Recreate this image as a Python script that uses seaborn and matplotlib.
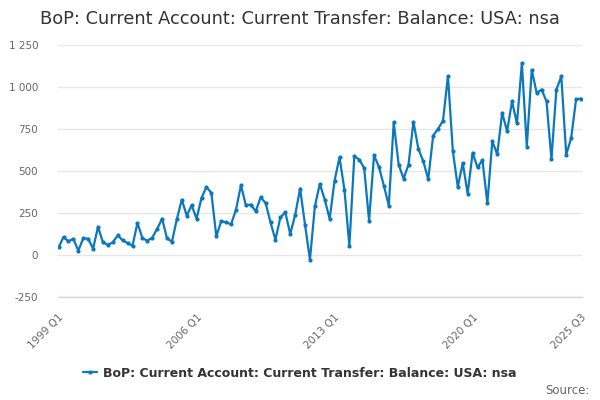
import numpy as np
import pandas as pd
import seaborn as sns
import matplotlib.pyplot as plt

title = 'BoP: Current Account: Current Transfer: Balance: USA: nsa'

quarters = [f'{y} Q{q}' for y in range(1999, 2026) for q in range(1, 5)][:107]

balance = [
    45, 107, 81, 97, 26, 99, 97, 38, 167, 75,
    61, 75, 117, 87, 71, 55, 191, 101, 85, 103,
    155, 216, 99, 79, 214, 330, 234, 296, 216, 340,
    405, 369, 111, 202, 194, 183, 270, 415, 296, 300,
    260, 343, 310, 194, 91, 224, 254, 125, 238, 395,
    181, -28, 290, 423, 330, 215, 443, 582, 389, 54,
    588, 568, 518, 204, 594, 524, 413, 294, 790, 538,
    455, 538, 793, 632, 558, 451, 711, 751, 800, 1065,
    617, 405, 548, 365, 608, 522, 564, 308, 677, 600,
    846, 737, 914, 783, 1140, 645, 1102, 965, 985, 914,
    570, 985, 1063, 598, 695, 927, 931,
]

yticks = [-250, 0, 250, 500, 750, 1000, 1250]
label_quarters = ['1999 Q1', '2006 Q1', '2013 Q1', '2020 Q1', '2025 Q3']

df = pd.DataFrame({'quarter': quarters, 'value': balance})
df['idx'] = np.arange(len(df))

sns.set_style('white')
plt.rcParams['font.family'] = ['DejaVu Sans']

fig, ax = plt.subplots(figsize=(6, 4), dpi=100)
fig.subplots_adjust(left=0.096, right=0.97, top=0.8875, bottom=0.2575)

sns.lineplot(data=df, x='idx', y='value', ax=ax, color='#0b77bd',
             linewidth=1.6, marker='o', markersize=3, markeredgewidth=0,
             label=title, legend=False)

ax.set_ylim(-250, 1250)
ax.set_xlim(-0.2, len(df) - 1 + 0.2)
ax.set_yticks(yticks)
ax.set_yticklabels([f'{v:,}'.replace(',', ' ') for v in yticks])
ax.yaxis.grid(True, color='#e6e6e6', linewidth=1)
ax.set_axisbelow(True)

tick_pos = list(range(0, len(df), 7))
if tick_pos[-1] != len(df) - 1:
    tick_pos.append(len(df) - 1)
ax.set_xticks(tick_pos)
ax.set_xticklabels([quarters[i] if quarters[i] in label_quarters else '' for i in tick_pos],
                   rotation=45, ha='right', rotation_mode='anchor')

ax.tick_params(axis='x', length=8, color='#ccd6eb', width=1, labelsize=7.5,
               labelcolor='#666666', pad=3)
ax.tick_params(axis='y', length=0, labelsize=7.5, labelcolor='#666666', pad=14)

for s in ['top', 'right', 'left']:
    ax.spines[s].set_visible(False)
ax.spines['bottom'].set_color('#ccd6eb')
ax.spines['bottom'].set_linewidth(1)

ax.set_xlabel('')
ax.set_ylabel('')
fig.suptitle(title, fontsize=12.75, color='#333333', y=0.975)

handles = ax.get_lines()[:1]
leg = fig.legend(handles, [title], loc='center', bbox_to_anchor=(0.5, 0.067),
                 frameon=False, handlelength=1.1, handletextpad=0.5,
                 prop={'weight': 'bold', 'size': 9})
for t in leg.get_texts():
    t.set_color('#333333')

fig.text(0.982, 0.025, 'Source:', ha='right', va='center', fontsize=8.5, color='#666666')

plt.savefig('out.png')
plt.close()
